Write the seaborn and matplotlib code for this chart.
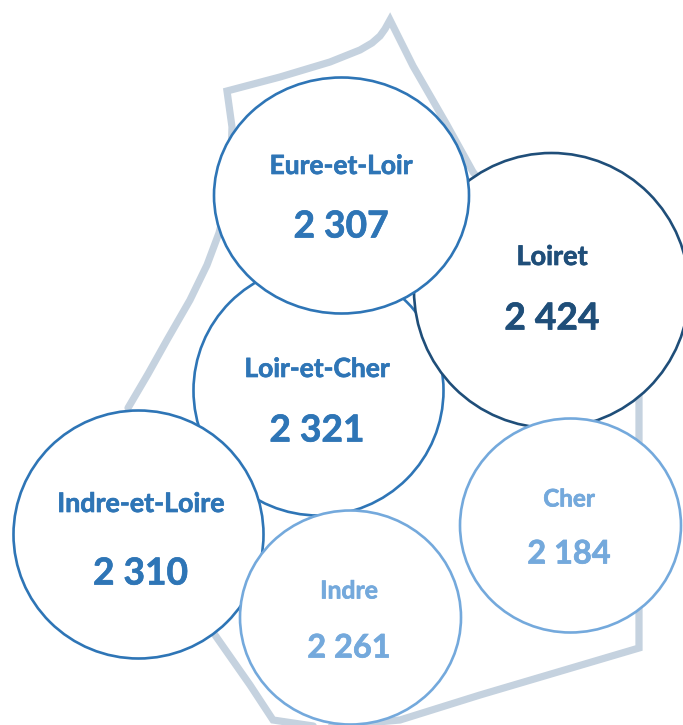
import matplotlib
matplotlib.use("Agg")
import matplotlib.patheffects as pe
import matplotlib.pyplot as plt
import pandas as pd
import seaborn as sns
from matplotlib.path import Path
from matplotlib.transforms import Affine2D

# --- Data ---
departments = ["Loir-et-Cher", "Loiret", "Indre-et-Loire", "Eure-et-Loir", "Indre", "Cher"]
values = ["2 321", "2 424", "2 310", "2 307", "2 261", "2 184"]

# --- Bubble layout, in picture pixels ---
centre_x = [317.5, 550.5, 137.5, 341, 350, 570]
centre_y = [390, 290, 534, 195, 617, 525]
bubble_w = [250, 275, 250, 255, 221, 221]
bubble_h = [250, 275, 248, 236, 214, 214]
name_y = [369, 257, 504, 166, 591, 499]
value_y = [431, 319, 574, 227, 648, 554]
label_x = [317, 552, 140.5, 341, 349, 569]
name_size = [19, 19.5, 19.3, 19, 17.8, 17.4]
value_size = [26.7, 26.7, 26.7, 26.7, 23.4, 23.4]
colours = ["#2E75B6", "#1F4E79", "#2E75B6", "#2E75B6", "#74A9DC", "#74A9DC"]

# --- Region outline ---
outline_x = [128, 148, 167, 190, 207, 219, 230, 232, 227, 280, 330, 360, 372, 380, 385, 390,
             413, 447, 473, 639, 639, 480, 400, 320, 273, 250, 215, 200]
outline_y = [408, 374, 340, 300, 265, 233, 190, 127, 91, 77, 62, 50, 43, 36, 29, 20,
             66, 125, 172, 380, 648, 695, 720, 727, 720, 685, 635, 615]

sns.set_theme(style="white")
plt.rcParams["font.family"] = ["Lato", "DejaVu Sans"]

fig, ax = plt.subplots(figsize=(6.83, 7.25), dpi=100)
fig.subplots_adjust(left=0, right=1, bottom=0, top=1)

sns.lineplot(x=outline_x, y=outline_y, sort=False, estimator=None, color="#C5D2DF",
             linewidth=5.2, ax=ax, zorder=0, solid_joinstyle="miter")

# bubbles are slightly squashed in the original, so each one gets its own marker
df = pd.DataFrame({"x": centre_x, "y": centre_y, "w": bubble_w, "h": bubble_h, "c": colours})
for _, row in df.iterrows():
    marker = Path.unit_circle().transformed(Affine2D().scale(row["w"], row["h"]))
    size = (max(row["w"], row["h"]) * 0.72) ** 2
    sns.scatterplot(x=[row["x"]], y=[row["y"]], marker=marker, s=size, color="white",
                    edgecolor=row["c"], linewidth=1.9, ax=ax, legend=False, zorder=1)

for i, name in enumerate(departments):
    # Lato bold is lighter than the original face, a thin stroke makes up for it
    thick = [pe.withStroke(linewidth=0.5, foreground=colours[i])]
    ax.text(label_x[i], name_y[i], name, color=colours[i], fontsize=name_size[i],
            fontweight="bold", ha="center", va="center", zorder=2, path_effects=thick)
    ax.text(label_x[i], value_y[i], values[i], color=colours[i], fontsize=value_size[i],
            fontweight="bold", ha="center", va="center", zorder=2, path_effects=thick)

ax.set_xlim(0, 683)
ax.set_ylim(725, 0)
ax.set_axis_off()

fig.savefig("out.png", dpi=100)
